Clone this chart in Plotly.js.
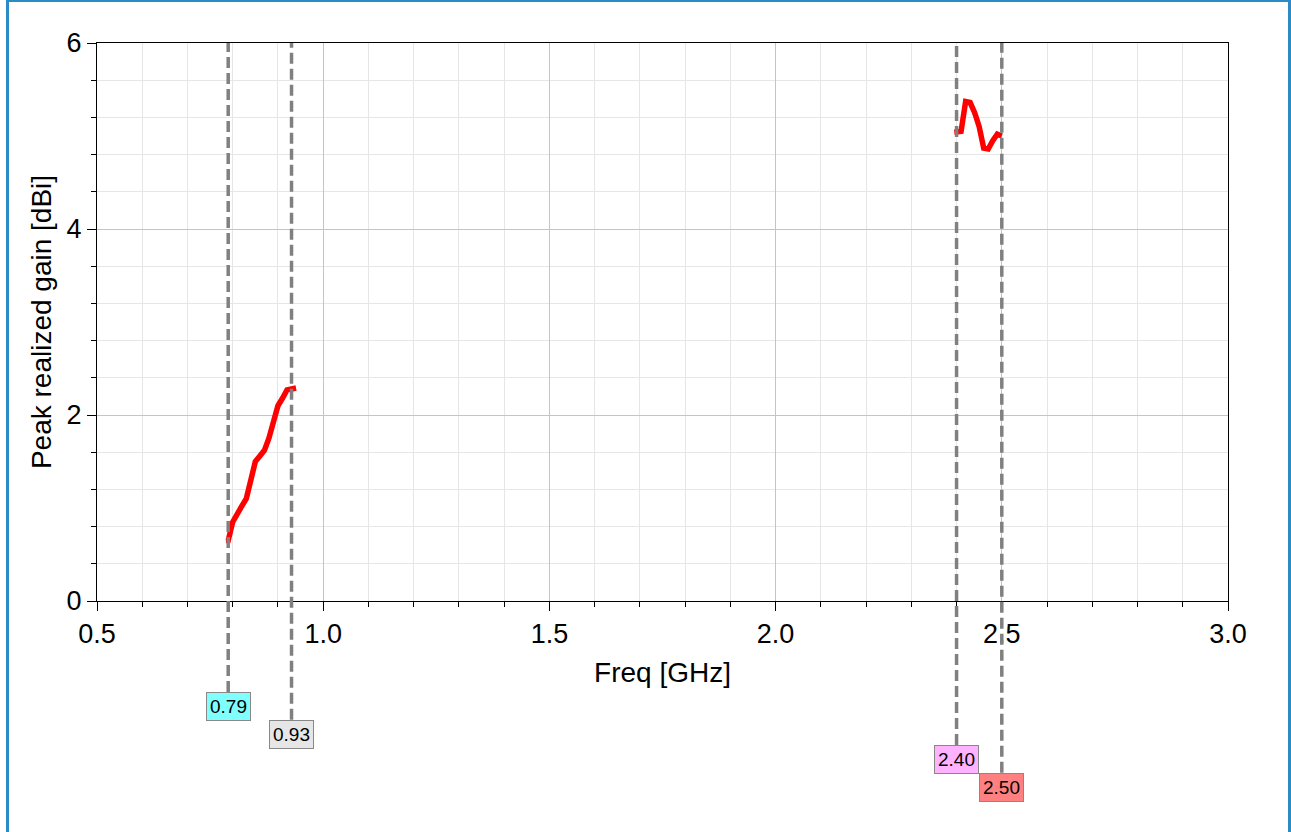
<!DOCTYPE html>
<html>
<head>
<meta charset="utf-8">
<script src="https://cdn.plot.ly/plotly-3.0.1.min.js"></script>
<style>
  html, body { margin: 0; padding: 0; background: #ffffff; }
  #chart { width: 1291px; height: 832px; }
  #frame {
    position: absolute; left: 6px; top: 0; width: 1279px; height: 840px;
    border-left: 3px solid #2a8bc5; border-top: 2px solid #2a8bc5; border-right: 3px solid #2a8bc5;
    pointer-events: none;
  }
</style>
</head>
<body>
<div id="chart"></div>
<div id="frame"></div>
<script>
// Peak realized gain, low band
const lowFreq = [0.785, 0.79, 0.80, 0.81, 0.82, 0.83, 0.84, 0.85, 0.86, 0.87, 0.88, 0.89, 0.90, 0.91, 0.92, 0.93, 0.94];
const lowGain = [0.65, 0.65, 0.85, 0.95, 1.02, 1.10, 1.30, 1.50, 1.56, 1.62, 1.75, 1.92, 2.10, 2.18, 2.27, 2.28, 2.29];

// Peak realized gain, high band
const highFreq = [2.395, 2.40, 2.41, 2.42, 2.43, 2.44, 2.45, 2.46, 2.47, 2.48, 2.49, 2.50];
const highGain = [5.04, 5.04, 5.05, 5.37, 5.36, 5.25, 5.10, 4.87, 4.86, 4.95, 5.02, 5.00];

// Band-edge markers
const markerFreq = [0.79, 0.93, 2.40, 2.50];
const markerText = ['0.79', '0.93', '2.40', '2.50'];
const markerColor = ['#80ffff', '#e6e6e6', '#ffb3ff', '#ff8080'];
const markerLabelY = [-0.163, -0.213, -0.258, -0.308];

const traces = [
  { x: lowFreq, y: lowGain, mode: 'lines', line: { color: '#ff0000', width: 5.5 }, hoverinfo: 'x+y' },
  { x: highFreq, y: highGain, mode: 'lines', line: { color: '#ff0000', width: 5.5 }, hoverinfo: 'x+y' }
];

const shapes = markerFreq.map((f, i) => ({
  type: 'line', xref: 'x', yref: 'paper',
  x0: f, x1: f, y0: markerLabelY[i], y1: 1,
  line: { color: '#808080', width: 3.5, dash: '11px,5px' }
}));

const annotations = markerFreq.map((f, i) => ({
  x: f, xref: 'x', y: markerLabelY[i], yref: 'paper',
  xanchor: 'center', yanchor: 'top', showarrow: false,
  text: markerText[i],
  font: { family: 'Liberation Sans, Arial, sans-serif', size: 19, color: '#000000' },
  bgcolor: markerColor[i], bordercolor: '#888888', borderwidth: 1, borderpad: 3
}));

const tickFont = { family: 'Liberation Sans, Arial, sans-serif', size: 27, color: '#000000' };
const titleFont = { family: 'Liberation Sans, Arial, sans-serif', size: 28, color: '#000000' };

const layout = {
  width: 1291, height: 832,
  margin: { l: 97, r: 63, t: 43, b: 231 },
  paper_bgcolor: '#ffffff', plot_bgcolor: '#ffffff',
  showlegend: false,
  xaxis: {
    range: [0.5, 3.0], dtick: 0.5, tick0: 0.5, tickformat: '.1f',
    ticks: 'outside', ticklen: 9, tickcolor: '#000000', tickwidth: 1,
    showline: true, linecolor: '#000000', linewidth: 1, mirror: true,
    showgrid: true, gridcolor: '#c4c4c4', gridwidth: 1, zeroline: false,
    tickfont: tickFont,
    minor: { dtick: 0.1, ticks: 'outside', ticklen: 5, tickcolor: '#000000', showgrid: true, gridcolor: '#e6e6e6', gridwidth: 1 },
    title: { text: 'Freq [GHz]', font: titleFont, standoff: 13 }
  },
  yaxis: {
    range: [0, 6], dtick: 2, tick0: 0,
    ticks: 'outside', ticklen: 9, tickcolor: '#000000', tickwidth: 1,
    showline: true, linecolor: '#000000', linewidth: 1, mirror: true,
    showgrid: true, gridcolor: '#c4c4c4', gridwidth: 1, zeroline: false,
    tickfont: tickFont,
    minor: { dtick: 0.4, ticks: 'outside', ticklen: 5, tickcolor: '#000000', showgrid: true, gridcolor: '#e6e6e6', gridwidth: 1 },
    title: { text: 'Peak realized gain [dBi]', font: titleFont, standoff: 6 }
  },
  shapes: shapes,
  annotations: annotations
};

Plotly.newPlot('chart', traces, layout, { displayModeBar: false, staticPlot: true });
</script>
</body>
</html>
